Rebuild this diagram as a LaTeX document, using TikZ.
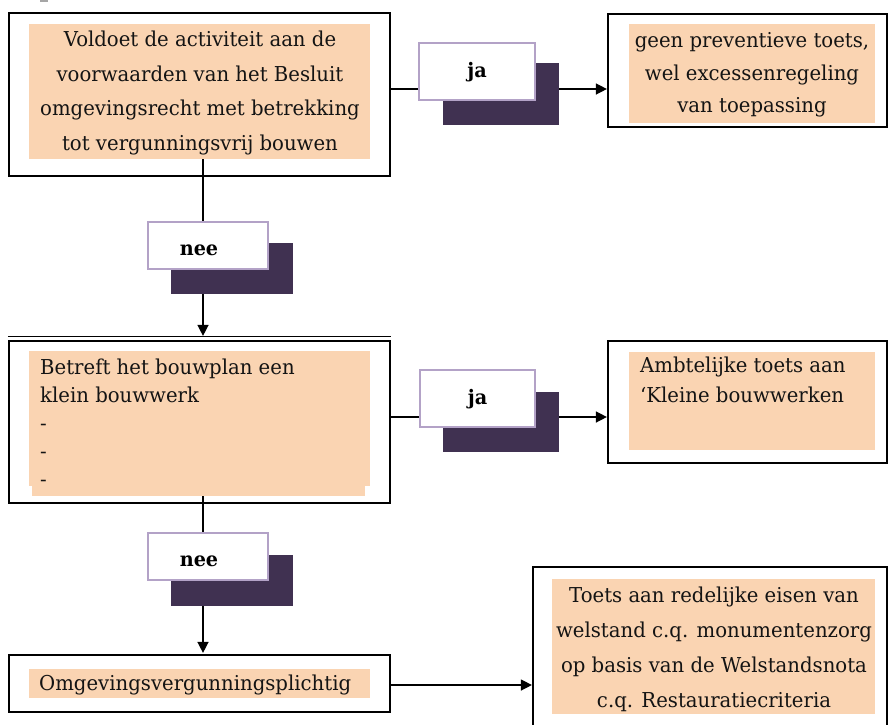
\documentclass[tikz,border=0pt]{standalone}
\usepackage{fontspec}
\setmainfont{DejaVu Serif}[FakeStretch=0.96]
\usetikzlibrary{arrows.meta}
\definecolor{peach}{RGB}{250,212,178}
\definecolor{shadowc}{RGB}{64,49,81}
\definecolor{lav}{RGB}{179,162,199}
\begin{document}
\begin{tikzpicture}[x=1pt,y=-1pt,
  outerbox/.style={draw=black,line width=2.2pt,inner sep=0pt,fill=white},
  peachbox/.style={fill=peach,draw=none,inner sep=0pt},
  shadowbox/.style={fill=shadowc,draw=none,inner sep=0pt},
  labelbox/.style={fill=white,draw=lav,line width=2pt,inner sep=0pt},
  labeltext/.style={inner sep=0pt,font=\fontsize{20pt}{24pt}\selectfont\bfseries},
  conn/.style={line width=1.4pt,-{Triangle[length=11pt,width=11pt]}},
  txt/.style={inner sep=0pt,text=black!92,font=\fontsize{20.5pt}{#1}\selectfont},
  txt/.default=34.5pt]
\useasboundingbox (0,0) rectangle (888,724);
\clip (0,0) rectangle (888,724);
\fill[gray!70] (40,0) rectangle (48,2);

% box 1
\node[outerbox,minimum width=381pt,minimum height=163pt] (box1) at (199.5,94.5) {};
\node[peachbox,minimum width=341pt,minimum height=135pt] (fill1) at (199.5,91.5) {};
\node[txt=34.5pt,align=center] (t1) at (200,93) {Voldoet de activiteit aan de\\voorwaarden van het Besluit\\omgevingsrecht met betrekking\\tot vergunningsvrij bouwen};

% right box 1
\node[outerbox,minimum width=279pt,minimum height=113pt] (boxr1) at (747.5,70.5) {};
\node[peachbox,minimum width=246pt,minimum height=99pt] (fillr1) at (752,73.5) {};
\node[txt=32.5pt,align=center] (tr1) at (752,75) {geen preventieve toets,\\wel excessenregeling\\van toepassing};

% box 2
\node[outerbox,minimum width=381pt,minimum height=162pt] (box2) at (199.5,422) {};
\node[peachbox,minimum width=333pt,minimum height=20pt] (fill2b) at (198.5,486) {};
\node[peachbox,minimum width=341pt,minimum height=135pt] (fill2) at (199.5,418.5) {};
\node[txt=28pt,align=left,anchor=north west] (t2) at (40,359) {Betreft het bouwplan een\\klein bouwwerk\\-\\-\\-};

% right box 2
\node[outerbox,minimum width=279pt,minimum height=122pt] (boxr2) at (747.5,402) {};
\node[peachbox,minimum width=246pt,minimum height=98pt] (fillr2) at (752,401) {};
\node[txt=30pt,align=left,anchor=north west] (tr2) at (640,357) {Ambtelijke toets aan\\‘Kleine bouwwerken};

% box 3
\node[outerbox,minimum width=381pt,minimum height=57pt] (box3) at (199.5,683.5) {};
\node[peachbox,minimum width=341pt,minimum height=29pt] (fill3) at (199.5,683.5) {};
\node[txt,anchor=west] (t3) at (39,685) {Omgevingsvergunningsplichtig};

% box 4
\node[outerbox,minimum width=354pt,minimum height=172pt] (box4) at (710,653) {};
\node[peachbox,minimum width=323pt,minimum height=135pt] (fill4) at (713.5,646.5) {};
\node[txt=35pt,align=center] (t4) at (714,649) {Toets aan redelijke eisen van\\welstand c.q. monumentenzorg\\op basis van de Welstandsnota\\c.q. Restauratiecriteria};

% connectors
\coordinate (vx) at (203,0);
\coordinate (top2) at ([yshift=4pt]box2.north);
\coordinate (top3) at ([yshift=1pt]box3.north);
\draw[line width=0.8pt] ([yshift=4pt]box2.north west) -- ([yshift=4pt]box2.north east);
\draw[conn] (fill1.south -| vx) -- (top2 -| vx);
\draw[conn] (fill2b.south -| vx) -- (top3 -| vx);
\coordinate (h1) at (0,89);
\coordinate (h2) at (0,417);
\coordinate (h3) at (0,685);
\draw[conn] (box1.east |- h1) -- (boxr1.west |- h1);
\draw[conn] (box2.east |- h2) -- (boxr2.west |- h2);
\draw[conn] (box3.east |- h3) -- (box4.west |- h3);

% labels
\node[shadowbox,minimum width=116pt,minimum height=62pt] (ja1s) at (501,94) {};
\node[labelbox,minimum width=116pt,minimum height=57pt] (ja1) at (477,71.5) {};
\node[labeltext] (ja1t) at (477,72) {ja};
\node[shadowbox,minimum width=116pt,minimum height=60pt] (ja2s) at (501,422) {};
\node[labelbox,minimum width=115pt,minimum height=57pt] (ja2) at (477.5,398.5) {};
\node[labeltext] (ja2t) at (477.5,399) {ja};
\node[shadowbox,minimum width=122pt,minimum height=51pt] (nee1s) at (232,268.5) {};
\node[labelbox,minimum width=120pt,minimum height=47pt] (nee1) at (208,245.5) {};
\node[labeltext] (nee1t) at (199,250) {nee};
\node[shadowbox,minimum width=122pt,minimum height=51pt] (nee2s) at (232,580.5) {};
\node[labelbox,minimum width=120pt,minimum height=47pt] (nee2) at (208,556.5) {};
\node[labeltext] (nee2t) at (199,561) {nee};
\end{tikzpicture}
\end{document}
